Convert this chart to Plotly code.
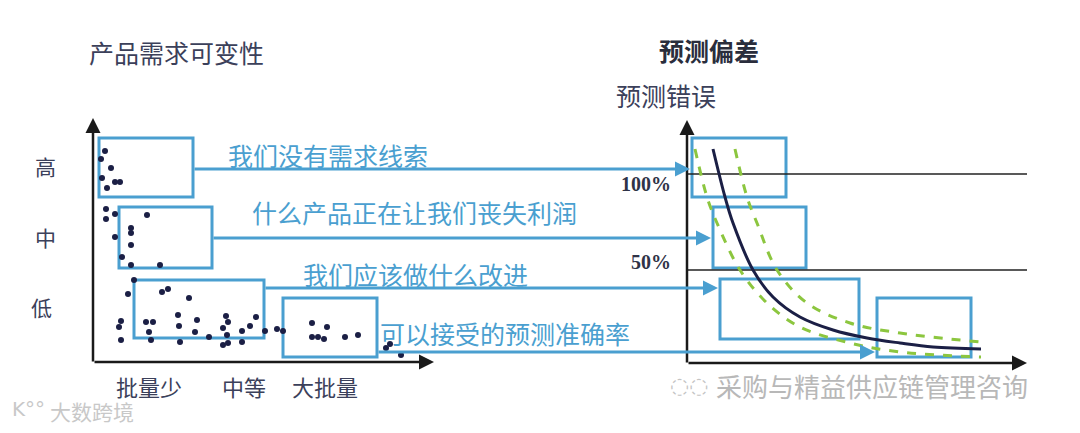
import plotly.graph_objects as go

# ---------------- data (diagram coordinates, 1080 x 433 canvas) ----------------
# Left panel scatter: product demand variability vs. batch size
dots_x = [105, 101, 111, 102, 107, 115, 120,
          106, 106, 115, 147, 115, 131, 131, 131, 122, 131, 160,
          134, 128, 162, 168, 189, 121, 119, 121, 146, 153, 149, 151, 178, 179, 180,
          197, 195, 209, 226, 228, 223, 227, 223, 228, 242, 242, 250, 256, 265, 277, 283,
          312, 327, 312, 318, 324, 345, 358,
          386, 390, 401]
dots_y = [151, 159, 168, 178, 188, 182, 182,
          209, 219, 214, 215, 237, 228, 233, 245, 257, 265, 265,
          280, 294, 292, 289, 298, 321, 327, 340, 322, 322, 332, 340, 315, 326, 342,
          320, 332, 337, 316, 322, 328, 335, 345, 343, 331, 342, 326, 317, 331, 329, 331,
          323, 327, 337, 337, 339, 337, 335,
          348, 344, 355]

# Boxes: (x0, y0, x1, y1)
left_boxes = [(99, 138, 193, 197), (119, 207, 212, 268), (134, 280, 264, 338), (283, 298, 377, 357)]
right_boxes = [(692, 138, 786, 197), (713, 207, 806, 268), (720, 279, 859, 339), (877, 298, 971, 357)]

# Connectors: (x_start, x_end, y)
connectors = [(193, 690, 169), (212, 711, 238), (264, 718, 288), (377, 875, 352)]
messages = ["我们没有需求线索", "什么产品正在让我们丧失利润", "我们应该做什么改进", "可以接受的预测准确率"]
message_pos = [(226, 155), (250, 212), (301, 274), (378, 333)]

# Forecast error curve and its band
curve_x = [713, 725, 733, 753, 773, 800, 833, 867, 900, 933, 981]
curve_y = [149, 197, 223, 270, 297, 317, 330, 338, 343, 347, 349]
band_lo_x = [695, 707, 717, 740, 767, 800, 850, 900, 981]
band_lo_y = [149, 197, 223, 270, 303, 327, 343, 352, 357]
band_hi_x = [735, 747, 757, 777, 807, 850, 900, 981]
band_hi_y = [149, 197, 223, 270, 303, 323, 333, 342]

level_labels = ["高", "中", "低"]
level_pos = [(45, 166), (45, 237), (41, 307)]
batch_labels = ["批量少", "中等", "大批量"]
batch_pos = [(149, 386), (244, 386), (325, 386)]
pct_labels = ["100%", "50%"]
pct_y = [174, 270]
pct_text_y = [184, 262]

BLUE = "#4a9fd0"
NAVY = "#1b1f45"
GREEN = "#8cc63f"
TXT = "#3b405a"
CJK = "Noto Sans CJK SC"
OFF = 8  # page offset of the plot div inside the browser window

fig = go.Figure()

# band + curve
fig.add_trace(go.Scatter(x=band_lo_x, y=band_lo_y, mode="lines", line=dict(color=GREEN, width=3, dash="dash", shape="spline"), hoverinfo="skip"))
fig.add_trace(go.Scatter(x=band_hi_x, y=band_hi_y, mode="lines", line=dict(color=GREEN, width=3, dash="dash", shape="spline"), hoverinfo="skip"))
fig.add_trace(go.Scatter(x=curve_x, y=curve_y, mode="lines", line=dict(color=NAVY, width=3, shape="spline"), hoverinfo="skip"))
# scatter dots
fig.add_trace(go.Scatter(x=dots_x, y=dots_y, mode="markers", marker=dict(color=NAVY, size=6), hoverinfo="skip"))

shapes = []
for (x0, y0, x1, y1) in left_boxes + right_boxes:
    shapes.append(dict(type="rect", x0=x0, y0=y0, x1=x1, y1=y1, xref="x", yref="y",
                       line=dict(color=BLUE, width=3), fillcolor="rgba(0,0,0,0)", layer="below"))
for yv in pct_y:
    shapes.append(dict(type="line", x0=687, x1=1027, y0=yv, y1=yv, xref="x", yref="y",
                       line=dict(color="#222222", width=1.3), layer="below"))

annotations = []
# axes with arrowheads
axes = [(93, 363, 93, 118), (93, 362, 434, 362), (687, 364, 687, 120), (687, 363, 1027, 363)]
for (x0, y0, x1, y1) in axes:
    annotations.append(dict(x=x1, y=y1, ax=x0, ay=y0, xref="x", yref="y", axref="x", ayref="y",
                            text="", showarrow=True, arrowhead=2, arrowsize=1.2, arrowwidth=2.5,
                            arrowcolor="#1a1a1a"))
# connectors
for (xs, xe, yv) in connectors:
    annotations.append(dict(x=xe, y=yv, ax=xs, ay=yv, xref="x", yref="y", axref="x", ayref="y",
                            text="", showarrow=True, arrowhead=2, arrowsize=1.0, arrowwidth=3,
                            arrowcolor=BLUE))
for t, (x, y) in zip(messages, message_pos):
    annotations.append(dict(x=x, y=y, text=t, showarrow=False, xanchor="left", yanchor="middle",
                            font=dict(family=CJK, size=25, color=BLUE)))
for t, (x, y) in zip(level_labels, level_pos):
    annotations.append(dict(x=x, y=y, text=t, showarrow=False, xanchor="center", yanchor="middle",
                            font=dict(family=CJK, size=21, color=TXT)))
for t, (x, y) in zip(batch_labels, batch_pos):
    annotations.append(dict(x=x, y=y, text=t, showarrow=False, xanchor="center", yanchor="middle",
                            font=dict(family=CJK, size=22, color=TXT)))
for t, yv in zip(pct_labels, pct_text_y):
    annotations.append(dict(x=673, y=yv, text="<b>" + t + "</b>", showarrow=False,
                            xanchor="right", yanchor="middle",
                            font=dict(family="Liberation Serif", size=20, color="#2f3347")))
# titles
annotations.append(dict(x=87, y=52, text="产品需求可变性", showarrow=False, xanchor="left", yanchor="middle",
                        font=dict(family=CJK, size=25, color=TXT)))
annotations.append(dict(x=657, y=50, text="<b>预测偏差</b>", showarrow=False, xanchor="left", yanchor="middle",
                        font=dict(family=CJK, size=25, color="#2a2d3c")))
annotations.append(dict(x=614, y=95, text="预测错误", showarrow=False, xanchor="left", yanchor="middle",
                        font=dict(family=CJK, size=25, color=TXT)))
# watermarks
annotations.append(dict(x=714, y=385, text="采购与精益供应链管理咨询", showarrow=False, xanchor="left", yanchor="middle",
                        font=dict(family=CJK, size=26, color="#b8b8b8")))
annotations.append(dict(x=668, y=385, text="◌◌", showarrow=False, xanchor="left", yanchor="middle",
                        font=dict(family="DejaVu Sans", size=22, color="#c4c4c4")))
annotations.append(dict(x=48, y=411, text="大数跨境", showarrow=False, xanchor="left", yanchor="middle",
                        font=dict(family=CJK, size=21, color="#c8c8c8")))
annotations.append(dict(x=10, y=409, text="K°°", showarrow=False, xanchor="left", yanchor="middle",
                        font=dict(family="DejaVu Sans", size=20, color="#c8c8c8")))

fig.update_layout(
    width=1080, height=433,
    margin=dict(l=0, r=0, t=0, b=0),
    paper_bgcolor="white", plot_bgcolor="white",
    showlegend=False,
    xaxis=dict(range=[OFF, 1080 + OFF], visible=False, fixedrange=True),
    yaxis=dict(range=[433 + OFF, OFF], visible=False, fixedrange=True),
    shapes=shapes, annotations=annotations,
)

fig.write_html("out.html")
